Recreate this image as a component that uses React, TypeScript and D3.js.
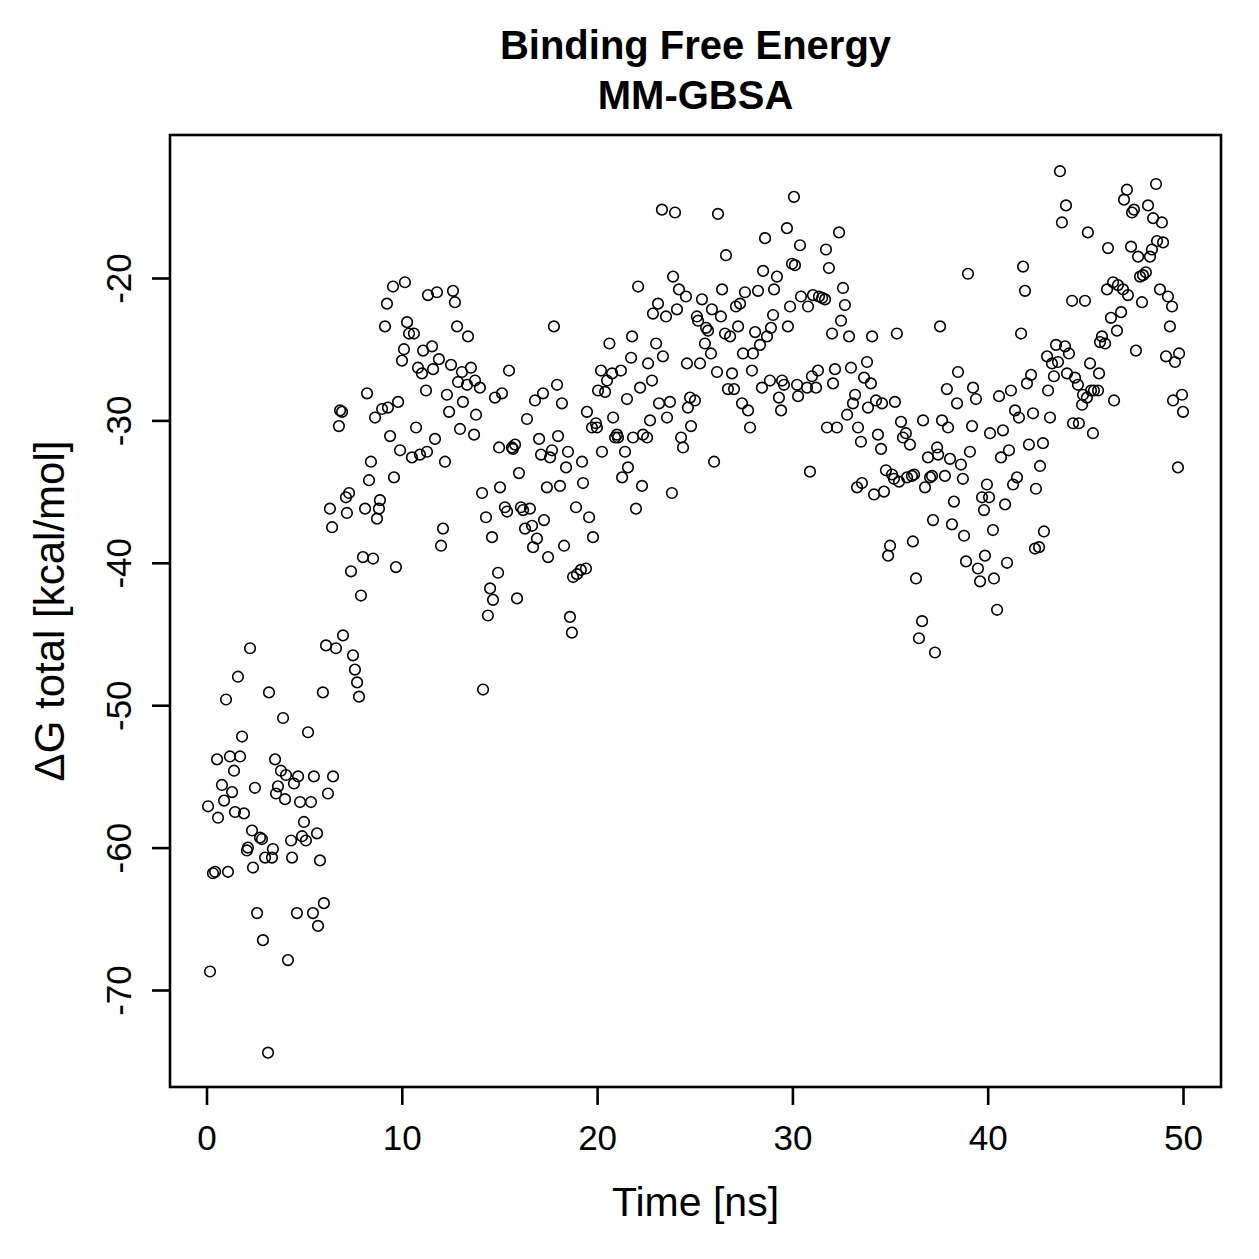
import { useEffect, useRef } from "react";
import { select, scaleLinear, axisBottom, axisLeft } from "d3";

// MM-GBSA snapshots: simulation time (ns) and total binding free energy (kcal/mol)
const timeNs = [
    0.08, 0.18, 0.33, 0.44, 0.54, 0.59, 0.79, 0.9, 1.0, 1.1, 1.2, 1.31, 1.41, 1.46, 1.61, 1.72,
    1.82, 1.92, 2.07, 2.12, 2.23, 2.33, 2.38, 2.48, 2.59, 2.74, 2.84, 2.89, 3.0, 3.15, 3.2, 3.35,
    3.4, 3.51, 3.56, 3.66, 3.81, 3.92, 4.02, 4.07, 4.17, 4.33, 4.38, 4.48, 4.63, 4.69, 4.79, 4.89,
    4.99, 5.09, 5.2, 5.35, 5.45, 5.5, 5.66, 5.71, 5.81, 5.96, 6.01, 6.12, 6.22, 6.32, 6.43, 6.48,
    6.63, 6.78, 6.84, 6.94, 6.99, 7.14, 7.19, 7.3, 7.4, 7.5, 7.6, 7.71, 7.81, 7.91, 8.01, 8.12,
    8.22, 8.32, 8.42, 8.53, 8.63, 8.73, 8.83, 8.88, 8.99, 9.14, 9.24, 9.29, 9.4, 9.55, 9.6, 9.7,
    9.81, 9.91, 10.01, 10.11, 10.16, 10.27, 10.37, 10.52, 10.62, 10.73, 10.83, 10.93, 11.03, 11.09, 11.24, 11.29,
    11.34, 11.55, 11.6, 11.7, 11.8, 11.9, 12.01, 12.11, 12.21, 12.31, 12.42, 12.52, 12.62, 12.72, 12.83, 12.88,
    12.98, 13.08, 13.13, 13.34, 13.39, 13.54, 13.7, 13.75, 13.8, 14.0, 14.11, 14.16, 14.31, 14.41, 14.52, 14.62,
    14.67, 14.77, 14.93, 14.98, 15.03, 15.13, 15.28, 15.39, 15.49, 15.64, 15.69, 15.8, 15.9, 16.0, 16.1, 16.21,
    16.31, 16.41, 16.56, 16.67, 16.72, 16.82, 16.92, 17.03, 17.13, 17.23, 17.28, 17.43, 17.49, 17.59, 17.69, 17.79,
    17.95, 18.0, 18.1, 18.2, 18.31, 18.41, 18.51, 18.61, 18.71, 18.77, 18.92, 18.97, 19.17, 19.23, 19.28, 19.43,
    19.48, 19.59, 19.74, 19.79, 19.94, 19.99, 20.05, 20.2, 20.25, 20.41, 20.51, 20.63, 20.77, 20.82, 20.92, 21.02,
    21.07, 21.22, 21.28, 21.43, 21.53, 21.58, 21.74, 21.79, 21.84, 21.99, 22.1, 22.2, 22.3, 22.35, 22.56, 22.61,
    22.71, 22.81, 22.86, 23.02, 23.12, 23.17, 23.32, 23.37, 23.53, 23.58, 23.73, 23.83, 23.89, 23.99, 24.09, 24.19,
    24.3, 24.4, 24.55, 24.6, 24.65, 24.76, 24.81, 25.01, 25.11, 25.17, 25.27, 25.37, 25.52, 25.58, 25.68, 25.83,
    25.88, 25.99, 26.14, 26.19, 26.34, 26.4, 26.55, 26.6, 26.7, 26.81, 26.91, 27.01, 27.11, 27.22, 27.32, 27.42,
    27.47, 27.57, 27.73, 27.83, 27.93, 27.98, 28.09, 28.24, 28.34, 28.44, 28.5, 28.6, 28.7, 28.85, 28.9, 29.01,
    29.06, 29.21, 29.31, 29.42, 29.47, 29.57, 29.72, 29.77, 29.88, 29.98, 30.08, 30.13, 30.24, 30.29, 30.39, 30.44,
    30.75, 30.8, 30.9, 31.0, 31.05, 31.21, 31.31, 31.36, 31.52, 31.67, 31.72, 31.77, 31.87, 32.03, 32.08, 32.18,
    32.28, 32.39, 32.49, 32.59, 32.69, 32.8, 32.9, 33.0, 33.1, 33.21, 33.31, 33.36, 33.51, 33.56, 33.67, 33.82,
    33.87, 34.02, 34.08, 34.18, 34.28, 34.38, 34.54, 34.59, 34.69, 34.79, 34.9, 35.0, 35.1, 35.2, 35.25, 35.35,
    35.46, 35.56, 35.66, 35.81, 35.87, 36.02, 36.12, 36.17, 36.23, 36.33, 36.48, 36.64, 36.69, 36.79, 36.94, 37.05,
    37.15, 37.2, 37.3, 37.41, 37.46, 37.56, 37.66, 37.81, 37.91, 37.97, 38.07, 38.17, 38.27, 38.43, 38.48, 38.63,
    38.73, 38.79, 38.89, 38.99, 39.09, 39.2, 39.25, 39.4, 39.5, 39.61, 39.71, 39.81, 39.86, 39.96, 40.07, 40.12,
    40.27, 40.32, 40.48, 40.58, 40.68, 40.78, 40.89, 40.99, 41.09, 41.19, 41.3, 41.4, 41.5, 41.6, 41.71, 41.81,
    41.91, 42.01, 42.11, 42.22, 42.32, 42.42, 42.47, 42.63, 42.68, 42.83, 42.88, 43.04, 43.09, 43.19, 43.29, 43.39,
    43.5, 43.6, 43.7, 43.8, 43.96, 44.01, 44.06, 44.16, 44.32, 44.37, 44.47, 44.62, 44.67, 44.83, 44.88, 44.98,
    45.08, 45.13, 45.24, 45.29, 45.39, 45.44, 45.65, 45.7, 45.75, 45.85, 46.01, 46.11, 46.16, 46.31, 46.42, 46.47,
    46.62, 46.67, 46.83, 46.93, 46.98, 47.13, 47.18, 47.34, 47.39, 47.49, 47.59, 47.7, 47.8, 47.9, 47.95, 48.1,
    48.21, 48.31, 48.41, 48.47, 48.62, 48.67, 48.82, 48.92, 48.98, 49.13, 49.23, 49.33, 49.44, 49.49, 49.59, 49.74,
    49.8, 49.95, 50.0,
];

const deltaGTotal = [
    -57.1, -68.7, -61.8, -61.7, -53.8, -57.9, -55.6, -56.7, -49.6, -61.7, -53.6, -56.1, -54.6, -57.5, -48.0, -53.6,
    -52.2, -57.6, -60.2, -60.0, -46.0, -58.8, -61.4, -55.8, -64.6, -59.3, -59.4, -66.5, -60.7, -74.4, -49.1, -60.7,
    -60.1, -53.8, -56.2, -55.7, -54.6, -50.9, -56.6, -54.9, -67.9, -59.5, -60.7, -55.5, -64.6, -55.0, -56.8, -59.2,
    -58.2, -59.5, -51.9, -56.8, -64.6, -55.0, -59.0, -65.5, -60.9, -49.1, -63.9, -45.8, -56.2, -36.2, -37.5, -55.0,
    -46.0, -30.4, -29.3, -29.4, -45.1, -35.4, -36.5, -35.1, -40.6, -46.5, -47.5, -48.4, -49.4, -42.3, -39.6, -36.2,
    -28.1, -34.2, -32.9, -39.7, -29.8, -36.9, -36.2, -35.6, -29.2, -23.4, -21.8, -29.1, -31.1, -20.6, -34.0, -40.3,
    -28.7, -32.1, -25.8, -25.0, -20.3, -23.1, -23.9, -32.6, -23.9, -30.5, -26.3, -32.4, -26.7, -25.1, -27.9, -32.2,
    -21.2, -24.8, -26.4, -31.3, -21.0, -25.7, -38.8, -37.6, -32.9, -28.2, -29.4, -26.1, -20.9, -21.7, -23.4, -27.3,
    -30.6, -26.6, -28.7, -27.5, -24.1, -26.3, -31.0, -27.2, -29.6, -27.7, -35.1, -48.9, -36.8, -43.7, -41.8, -38.2,
    -42.6, -28.4, -40.7, -31.9, -34.7, -28.1, -36.1, -36.4, -26.5, -31.9, -32.0, -31.7, -42.5, -33.7, -36.1, -36.3,
    -37.6, -29.9, -36.2, -37.4, -38.9, -28.6, -38.3, -31.3, -32.4, -28.1, -37.0, -34.7, -39.6, -32.6, -32.1, -23.4,
    -27.5, -31.1, -34.6, -28.8, -38.8, -33.3, -32.2, -43.8, -44.9, -41.0, -36.1, -40.8, -40.5, -32.9, -34.4, -40.4,
    -29.4, -36.8, -30.5, -38.2, -30.2, -30.5, -27.9, -26.5, -32.2, -28.0, -27.2, -24.6, -26.7, -29.8, -31.2, -31.0,
    -31.2, -26.5, -34.0, -32.2, -28.5, -33.3, -25.6, -24.1, -31.2, -36.2, -20.6, -27.7, -34.6, -31.0, -31.2, -26.0,
    -30.0, -27.2, -22.5, -24.6, -21.8, -28.8, -15.2, -25.5, -22.7, -29.8, -28.7, -35.1, -19.9, -15.4, -22.2, -20.8,
    -31.2, -31.9, -21.3, -26.0, -29.1, -28.4, -30.4, -28.6, -22.7, -23.0, -26.0, -21.5, -24.6, -23.5, -23.7, -25.3,
    -22.2, -32.9, -26.6, -15.5, -22.7, -20.8, -23.9, -18.4, -27.8, -24.1, -26.7, -27.8, -22.0, -23.4, -21.8, -28.8,
    -25.3, -21.0, -29.3, -30.5, -26.5, -25.3, -23.8, -20.9, -24.7, -27.7, -19.5, -17.2, -24.1, -27.2, -23.5, -22.6,
    -20.8, -19.9, -28.4, -29.3, -27.2, -27.5, -16.5, -23.4, -22.0, -19.0, -14.3, -19.1, -27.5, -28.3, -17.7, -21.3,
    -27.7, -22.0, -33.6, -26.9, -21.2, -27.7, -26.5, -21.3, -21.4, -21.5, -18.0, -30.5, -19.3, -23.9, -27.4, -26.4,
    -30.5, -16.8, -23.0, -20.7, -21.9, -29.6, -24.1, -26.3, -28.8, -28.2, -34.7, -30.5, -31.5, -34.4, -27.0, -25.9,
    -29.1, -27.4, -24.1, -35.2, -28.6, -31.0, -32.0, -28.8, -35.0, -33.5, -39.5, -38.8, -33.8, -34.1, -28.7, -23.9,
    -34.3, -30.1, -31.2, -30.9, -34.0, -31.7, -33.9, -38.5, -33.8, -41.1, -45.3, -44.1, -30.0, -34.7, -32.6, -34.0,
    -33.9, -37.0, -46.3, -31.9, -32.4, -23.4, -30.0, -33.9, -27.8, -30.5, -32.7, -37.3, -35.7, -28.8, -26.6, -33.1,
    -34.1, -38.1, -39.9, -19.7, -32.2, -30.4, -27.7, -28.5, -40.4, -41.3, -35.4, -36.3, -39.5, -34.5, -35.4, -30.9,
    -37.7, -41.1, -43.3, -28.3, -32.6, -30.7, -35.9, -40.0, -32.1, -27.9, -34.5, -29.3, -34.0, -29.8, -23.9, -19.2,
    -20.9, -27.4, -31.7, -26.8, -29.5, -39.0, -34.8, -38.9, -33.2, -31.6, -37.8, -25.5, -27.9, -29.8, -26.0, -26.9,
    -24.7, -25.9, -12.5, -16.1, -24.8, -14.9, -26.7, -25.3, -21.6, -30.2, -27.0, -27.5, -30.2, -28.9, -28.2, -21.6,
    -28.4, -16.8, -26.0, -27.9, -30.9, -27.9, -27.9, -26.7, -24.5, -24.1, -24.6, -20.8, -17.9, -22.8, -20.3, -28.6,
    -23.7, -20.5, -22.4, -20.8, -14.5, -13.8, -21.2, -17.8, -15.4, -15.2, -25.1, -18.5, -19.9, -21.7, -19.8, -19.6,
    -14.9, -18.5, -18.0, -15.8, -13.4, -17.4, -20.8, -16.1, -17.5, -25.5, -21.3, -23.4, -22.0, -28.6, -25.9, -33.3,
    -25.3, -28.2, -29.4,
];

const xTickValues = [0, 10, 20, 30, 40, 50];
const yTickValues = [-20, -30, -40, -50, -60, -70];
const titleLines = ["Binding Free Energy", "MM-GBSA"];
const xLabel = "Time [ns]";
const yLabel = "\u0394G total [kcal/mol]";

function BindingEnergyPlot() {
    const svgRef = useRef<SVGSVGElement>(null);

    useEffect(() => {
        document.body.style.margin = "0";

        const Width = 1259;
        const Height = 1259;
        const box = { left: 170, right: 1221, top: 135, bottom: 1087 };
        const font = "'Liberation Sans', Arial, Helvetica, sans-serif";

        const xScale = scaleLinear().domain([0, 50]).range([206.5, 1183]);
        const yScale = scaleLinear().domain([-20, -70]).range([278, 990]);

        const svg = select(svgRef.current)
            .attr("width", Width)
            .attr("height", Height)
            .style("display", "block");

        svg.selectAll("*").remove();

        svg.append("rect")
            .attr("width", Width)
            .attr("height", Height)
            .attr("fill", "#ffffff");

        // points
        const points = timeNs.map((t, i) => ({ t, g: deltaGTotal[i] }));
        svg.append("g")
            .attr("class", "dots")
            .selectAll("circle")
            .data(points)
            .join("circle")
            .attr("cx", (d) => xScale(d.t))
            .attr("cy", (d) => yScale(d.g))
            .attr("r", 5.3)
            .attr("fill", "none")
            .attr("stroke", "#000")
            .attr("stroke-width", 1.6);

        // frame
        svg.append("rect")
            .attr("x", box.left)
            .attr("y", box.top)
            .attr("width", box.right - box.left)
            .attr("height", box.bottom - box.top)
            .attr("fill", "none")
            .attr("stroke", "#000")
            .attr("stroke-width", 2.6);

        // plain hyphen for negatives, like R's axis labels
        const plain = (d) => String(d);

        // x axis
        const xAxis = axisBottom(xScale)
            .tickValues(xTickValues)
            .tickFormat(plain)
            .tickSize(18)
            .tickSizeOuter(0);
        const gx = svg.append("g")
            .attr("transform", `translate(0, ${box.bottom})`)
            .style("color", "#000")
            .call(xAxis);
        gx.select(".domain").remove();
        gx.selectAll(".tick line").attr("stroke-width", 2.6);
        gx.selectAll(".tick text")
            .attr("y", 63)
            .attr("dy", null)
            .attr("fill", "#000")
            .style("font-family", font)
            .style("font-size", "35px");

        // y axis, labels parallel to the axis
        const yAxis = axisLeft(yScale)
            .tickValues(yTickValues)
            .tickFormat(plain)
            .tickSize(18)
            .tickSizeOuter(0);
        const gy = svg.append("g")
            .attr("transform", `translate(${box.left}, 0)`)
            .style("color", "#000")
            .call(yAxis);
        gy.select(".domain").remove();
        gy.selectAll(".tick line").attr("stroke-width", 2.6);
        gy.selectAll(".tick text")
            .attr("x", 0)
            .attr("dy", null)
            .attr("text-anchor", "middle")
            .attr("transform", "translate(-39, 0) rotate(-90)")
            .attr("fill", "#000")
            .style("font-family", font)
            .style("font-size", "35px");

        // titles
        svg.selectAll(".title")
            .data(titleLines)
            .join("text")
            .attr("class", "title")
            .attr("x", (box.left + box.right) / 2)
            .attr("y", (_, i) => 59 + i * 50)
            .attr("text-anchor", "middle")
            .style("font-family", font)
            .style("font-weight", 700)
            .style("font-size", "40px")
            .text((d) => d);

        svg.append("text")
            .attr("x", (box.left + box.right) / 2)
            .attr("y", 1216)
            .attr("text-anchor", "middle")
            .style("font-family", font)
            .style("font-size", "41px")
            .text(xLabel);

        svg.append("text")
            .attr("transform", `translate(64, ${(box.top + box.bottom) / 2}) rotate(-90)`)
            .attr("text-anchor", "middle")
            .style("font-family", font)
            .style("font-size", "42px")
            .text(yLabel);
    }, []);

    return <svg ref={svgRef}></svg>;
}

export default function App() {
    return <BindingEnergyPlot />;
}
